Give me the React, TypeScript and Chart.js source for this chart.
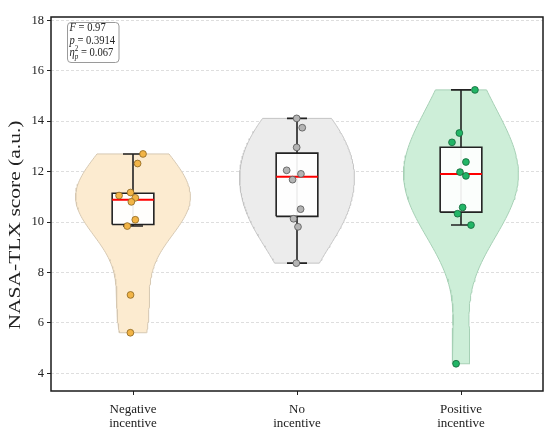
import React, { useEffect, useRef } from 'react';
import { Chart, registerables } from 'chart.js';

Chart.register(...registerables);

// ---------------- data ----------------
const categories = ['Negative\nincentive', 'No\nincentive', 'Positive\nincentive'];

const negativeScores = [12.70, 12.32, 11.17, 11.05, 10.96, 10.80, 10.09, 9.84, 7.11, 5.61];
const negativeJitter = [0.061, 0.028, -0.015, -0.085, 0.014, -0.010, 0.014, -0.035, -0.015, -0.016];

const noScores = [14.11, 13.74, 12.96, 12.05, 11.91, 11.68, 10.51, 10.13, 9.81, 8.37];
const noJitter = [-0.002, 0.032, -0.002, -0.063, 0.024, -0.027, 0.022, -0.021, 0.006, -0.004];

const positiveScores = [15.24, 13.53, 13.16, 12.38, 11.98, 11.83, 10.58, 10.33, 9.88, 4.38];
const positiveJitter = [0.085, -0.010, -0.055, 0.030, -0.006, 0.030, 0.010, -0.021, 0.061, -0.030];

const yTicks = [4, 6, 8, 10, 12, 14, 16, 18];
const yMin = 3.3;
const yMax = 18.13;

const statF = '0.97';
const statP = '0.3914';
const statEta = '0.067';
const yTitle = 'NASA-TLX score (a.u.)';

// ---------------- styles ----------------
const violinFills = ['#fcebd0', '#ececec', '#cdeed8'];
const violinEdges = ['#d6c8b2', '#c4c4c4', '#a6d0b5'];
const pointFills = ['#f2b446', '#b4b4b4', '#22b566'];
const pointEdges = ['#8a6420', '#555555', '#14663a'];
const FONT = '"Liberation Serif", "Times New Roman", serif';

const VIOLIN_HALF = 0.35;
const BOX_HALF = 0.127;
const CAP_HALF = 0.061;

// ---------------- stats helpers ----------------
function quantile(sorted: number[], q: number) {
  const pos = q * (sorted.length - 1);
  const lo = Math.floor(pos);
  const hi = Math.min(lo + 1, sorted.length - 1);
  return sorted[lo] + (pos - lo) * (sorted[hi] - sorted[lo]);
}

function boxStats(values: number[]) {
  const s = [...values].sort((a, b) => a - b);
  const q1 = quantile(s, 0.25);
  const med = quantile(s, 0.5);
  const q3 = quantile(s, 0.75);
  const iqr = q3 - q1;
  const lo = Math.min(...s.filter((v) => v >= q1 - 1.5 * iqr));
  const hi = Math.max(...s.filter((v) => v <= q3 + 1.5 * iqr));
  return { q1, med, q3, lo, hi };
}

function violinShape(values: number[], center: number) {
  const n = values.length;
  const mean = values.reduce((a, b) => a + b, 0) / n;
  const sd = Math.sqrt(values.reduce((a, b) => a + (b - mean) ** 2, 0) / (n - 1));
  const bw = sd * Math.pow(n, -0.2);
  const mn = Math.min(...values);
  const mx = Math.max(...values);
  const steps = 100;
  const ys: number[] = [];
  const ds: number[] = [];
  for (let i = 0; i <= steps; i++) {
    const y = mn + ((mx - mn) * i) / steps;
    let d = 0;
    for (const v of values) d += Math.exp(-0.5 * ((y - v) / bw) ** 2);
    ys.push(y);
    ds.push(d);
  }
  const dmax = Math.max(...ds);
  const pts: { x: number; y: number }[] = [];
  for (let i = 0; i <= steps; i++) pts.push({ x: center + (VIOLIN_HALF * ds[i]) / dmax, y: ys[i] });
  for (let i = steps; i >= 0; i--) pts.push({ x: center - (VIOLIN_HALF * ds[i]) / dmax, y: ys[i] });
  pts.push(pts[0]);
  return pts;
}

function buildDatasets() {
  const groups = [
    { values: negativeScores, jitter: negativeJitter },
    { values: noScores, jitter: noJitter },
    { values: positiveScores, jitter: positiveJitter },
  ];
  const ds: any[] = [];
  groups.forEach((g, i) => {
    const c = i;
    const st = boxStats(g.values);
    ds.push({
      type: 'line',
      data: violinShape(g.values, c),
      backgroundColor: violinFills[i],
      borderColor: violinEdges[i],
      borderWidth: 1,
      fill: 'shape',
      pointRadius: 0,
      tension: 0,
      order: 5,
    });
    ds.push({
      type: 'line',
      data: [
        { x: c - CAP_HALF, y: st.hi },
        { x: c + CAP_HALF, y: st.hi },
        { x: c, y: st.hi },
        { x: c, y: st.lo },
        { x: c - CAP_HALF, y: st.lo },
        { x: c + CAP_HALF, y: st.lo },
      ],
      borderColor: '#222222',
      borderWidth: 1.6,
      fill: false,
      pointRadius: 0,
      tension: 0,
      order: 4,
    });
    ds.push({
      type: 'line',
      data: [
        { x: c - BOX_HALF, y: st.q1 },
        { x: c + BOX_HALF, y: st.q1 },
        { x: c + BOX_HALF, y: st.q3 },
        { x: c - BOX_HALF, y: st.q3 },
        { x: c - BOX_HALF, y: st.q1 },
      ],
      backgroundColor: 'rgba(255,255,255,0.92)',
      borderColor: '#222222',
      borderWidth: 1.6,
      fill: 'shape',
      pointRadius: 0,
      tension: 0,
      order: 3,
    });
    ds.push({
      type: 'line',
      data: [
        { x: c - BOX_HALF, y: st.med },
        { x: c + BOX_HALF, y: st.med },
      ],
      borderColor: '#ff0000',
      borderWidth: 2,
      fill: false,
      pointRadius: 0,
      order: 2,
    });
    ds.push({
      type: 'scatter',
      data: g.values.map((v, k) => ({ x: c + g.jitter[k], y: v })),
      backgroundColor: pointFills[i],
      borderColor: pointEdges[i],
      borderWidth: 0.8,
      pointRadius: 3.4,
      order: 1,
    });
  });
  return ds;
}

function drawRuns(ctx: CanvasRenderingContext2D, x: number, y: number, runs: { t: string; italic?: boolean; size?: number; dy?: number; noAdvance?: boolean }[], sx: number) {
  let cx = x;
  for (const r of runs) {
    ctx.font = `${r.italic ? 'italic ' : ''}${r.size || 12}px ${FONT}`;
    ctx.save();
    ctx.translate(cx, y + (r.dy || 0));
    ctx.scale(sx, 1);
    ctx.fillText(r.t, 0, 0);
    ctx.restore();
    if (!r.noAdvance) cx += ctx.measureText(r.t).width * sx;
  }
}

const overlayPlugin = {
  id: 'overlay',
  afterDatasetsDraw(chart: any) {
    const { ctx, chartArea } = chart;
    ctx.save();
    ctx.strokeStyle = '#1a1a1a';
    ctx.lineWidth = 1.5;
    ctx.strokeRect(chartArea.left, chartArea.top, chartArea.right - chartArea.left, chartArea.bottom - chartArea.top);
    ctx.restore();
  },
  afterDraw(chart: any) {
    const { ctx, chartArea } = chart;
    // y title
    ctx.save();
    ctx.translate(15.5, 225);
    ctx.rotate(-Math.PI / 2);
    ctx.scale(1, 0.8);
    ctx.font = `21.5px ${FONT}`;
    ctx.fillStyle = '#222';
    ctx.textAlign = 'center';
    ctx.textBaseline = 'middle';
    ctx.fillText(yTitle, 0, 0);
    ctx.restore();

    // stats box
    const bx = chartArea.left + 16.5;
    const by = chartArea.top + 5.5;
    ctx.save();
    ctx.beginPath();
    if ((ctx as any).roundRect) (ctx as any).roundRect(bx, by, 51.5, 40, 3.5);
    else ctx.rect(bx, by, 51.5, 40);
    ctx.fillStyle = 'rgba(255,255,255,0.92)';
    ctx.fill();
    ctx.strokeStyle = '#9a9a9a';
    ctx.lineWidth = 1;
    ctx.stroke();
    ctx.fillStyle = '#222';
    ctx.textAlign = 'left';
    ctx.textBaseline = 'alphabetic';
    const tx = bx + 2;
    const sx = 0.88;
    drawRuns(ctx, tx, by + 8.5, [{ t: 'F', italic: true }, { t: ' = ' + statF }], sx);
    drawRuns(ctx, tx, by + 21, [{ t: 'p', italic: true }, { t: ' = ' + statP }], sx);
    drawRuns(
      ctx,
      tx,
      by + 33.5,
      [
        { t: 'η', italic: true },
        { t: '2', size: 8, dy: -5, noAdvance: true },
        { t: 'p', italic: true, size: 8, dy: 3 },
        { t: ' = ' + statEta },
      ],
      sx
    );
    ctx.restore();
  },
};

export default function App() {
  const ref = useRef<HTMLCanvasElement | null>(null);
  useEffect(() => {
    if (!ref.current) return;
    const chart = new Chart(ref.current, {
      type: 'line',
      data: { datasets: buildDatasets() },
      options: {
        animation: false,
        responsive: true,
        maintainAspectRatio: false,
        layout: { padding: { left: 0, top: 17, right: 7, bottom: 0 } },
        plugins: { legend: { display: false }, tooltip: { enabled: false } },
        elements: { line: { tension: 0 } },
        scales: {
          x: {
            type: 'linear',
            min: -0.5,
            max: 2.5,
            afterBuildTicks: (s: any) => {
              s.ticks = categories.map((_, i) => ({ value: i }));
            },
            afterFit: (s: any) => {
              s.height = 45;
            },
            ticks: {
              autoSkip: false,
              maxRotation: 0,
              padding: 8,
              color: '#222',
              font: { family: FONT, size: 13, lineHeight: 1.03 },
              callback: (v: any) => (categories[Math.round(v)] || '').split('\n'),
            },
            grid: { drawOnChartArea: false, drawTicks: true, tickLength: 4, tickColor: '#222', tickWidth: 1 },
            border: { display: false },
          },
          y: {
            type: 'linear',
            min: yMin,
            max: yMax,
            afterBuildTicks: (s: any) => {
              s.ticks = yTicks.map((v) => ({ value: v }));
            },
            afterFit: (s: any) => {
              s.width = 51;
            },
            ticks: { padding: 3, color: '#222', font: { family: FONT, size: 12.5 } },
            grid: {
              color: '#d6d6d6',
              lineWidth: 0.8,
              drawTicks: true,
              tickLength: 4,
              tickColor: '#222',
              tickWidth: 1,
              tickBorderDash: [],
            },
            border: { display: false, dash: [3, 2] },
          },
        },
      } as any,
      plugins: [overlayPlugin],
    });
    return () => chart.destroy();
  }, []);
  return (
    <div style={{ position: 'fixed', left: 0, top: 0, width: 550, height: 436, background: '#fff' }}>
      <canvas ref={ref} />
    </div>
  );
}
